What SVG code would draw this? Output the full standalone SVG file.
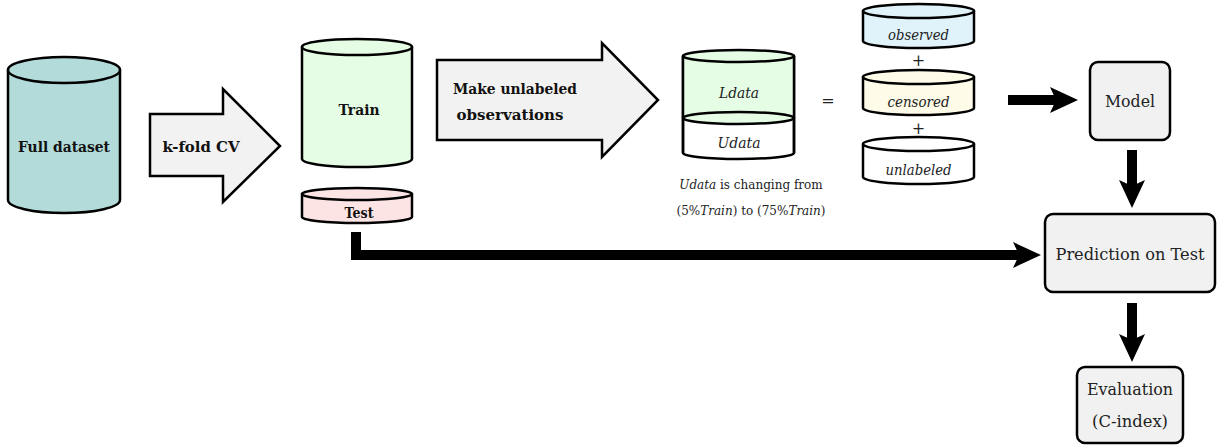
<svg xmlns="http://www.w3.org/2000/svg" width="1217" height="446" viewBox="0 0 1217 446">
<style>
.cyl{stroke:#000;stroke-width:2.5;stroke-linejoin:round}
text{font-family:'DejaVu Serif','Liberation Serif',serif}
.b{font-weight:bold;font-size:14px;fill:#111;text-anchor:middle}
.r{font-size:16px;fill:#222;text-anchor:middle}
.i{font-style:italic;font-size:14px;fill:#222;text-anchor:middle}
.s{font-size:12px;fill:#222;text-anchor:middle}
.box{fill:#f1f1f1;stroke:#000;stroke-width:2.5}
.bigarrow{fill:#f2f2f2;stroke:#000;stroke-width:2.5;stroke-linejoin:miter}
.conn{fill:none;stroke:#000;stroke-width:10}
.head{fill:#000}
</style>

<g id="full-dataset">
<path class="cyl" fill="#b2dbd9" d="M8,70 L8,200 A56,13 0 0 0 120,200 L120,70 Z"/>
<ellipse class="cyl" fill="#b2dbd9" cx="64" cy="70" rx="56" ry="13"/>
<text class="b" x="64" y="152" textLength="92" lengthAdjust="spacingAndGlyphs">Full dataset</text>
</g>

<g id="kfold-arrow">
<polygon class="bigarrow" points="150,114 223,114 223,89 280,146 223,202 223,176 150,176"/>
<text class="b" x="201" y="152" textLength="77" lengthAdjust="spacingAndGlyphs">k-fold CV</text>
</g>

<g id="train">
<path class="cyl" fill="#e5fde5" d="M302,47 L302,159 A55,8 0 0 0 412,159 L412,47 Z"/>
<ellipse class="cyl" fill="#e5fde5" cx="357" cy="47" rx="55" ry="8"/>
<text class="b" x="359" y="115" textLength="41" lengthAdjust="spacingAndGlyphs">Train</text>
</g>

<g id="test">
<path class="cyl" fill="#fde4e4" d="M302,194 L302,217 A55,6 0 0 0 412,217 L412,194 Z"/>
<ellipse class="cyl" fill="#fde4e4" cx="357" cy="194" rx="55" ry="6"/>
<text class="b" x="359" y="218" textLength="29" lengthAdjust="spacingAndGlyphs">Test</text>
</g>

<g id="make-unlabeled-arrow">
<polygon class="bigarrow" points="437,60 602,60 602,43 658,100 602,157 602,140 437,140"/>
<text class="b" x="515" y="94" textLength="124" lengthAdjust="spacingAndGlyphs">Make unlabeled</text>
<text class="b" x="510" y="120" textLength="107" lengthAdjust="spacingAndGlyphs">observations</text>
</g>

<g id="ldata-udata">
<path class="cyl" fill="#ffffff" d="M683,56 L683,153 A55.5,6 0 0 0 794,153 L794,56 Z"/>
<path fill="#e5fde5" stroke="none" d="M684,56 L684,118 L793,118 L793,56 Z"/>
<path fill="none" stroke="#000" stroke-width="2.5" d="M683,56 L683,153 M794,56 L794,153"/>
<ellipse class="cyl" fill="#e5fde5" cx="738.5" cy="118" rx="55.5" ry="6"/>
<ellipse class="cyl" fill="#e5fde5" cx="738.5" cy="56" rx="55.5" ry="6"/>
<text class="i" x="739" y="98" textLength="40" lengthAdjust="spacingAndGlyphs">Ldata</text>
<text class="i" x="739" y="148" textLength="43" lengthAdjust="spacingAndGlyphs">Udata</text>
</g>

<g id="udata-caption">
<text class="s" x="751" y="189"><tspan font-style="italic">Udata</tspan> is changing from</text>
<text class="s" x="751" y="215">(5%<tspan font-style="italic">Train</tspan>) to (75%<tspan font-style="italic">Train</tspan>)</text>
</g>

<g id="equals">
<text class="r" x="828" y="106">=</text>
</g>

<g id="observed">
<path class="cyl" fill="#e0f3fb" d="M863,11 L863,41 A55.5,7 0 0 0 974,41 L974,11 Z"/>
<ellipse class="cyl" fill="#e0f3fb" cx="918.5" cy="11" rx="55.5" ry="7"/>
<text class="i" x="918.5" y="40" textLength="61" lengthAdjust="spacingAndGlyphs">observed</text>
</g>
<g id="plus1"><text class="r" x="918.5" y="66">+</text></g>

<g id="censored">
<path class="cyl" fill="#fefbe9" d="M863,77 L863,108 A55.5,7 0 0 0 974,108 L974,77 Z"/>
<ellipse class="cyl" fill="#fefbe9" cx="918.5" cy="77" rx="55.5" ry="7"/>
<text class="i" x="918.5" y="107" textLength="62" lengthAdjust="spacingAndGlyphs">censored</text>
</g>
<g id="plus2"><text class="r" x="918.5" y="134">+</text></g>

<g id="unlabeled">
<path class="cyl" fill="#ffffff" d="M863,144 L863,177 A55.5,7 0 0 0 974,177 L974,144 Z"/>
<ellipse class="cyl" fill="#ffffff" cx="918.5" cy="144" rx="55.5" ry="7"/>
<text class="i" x="918.5" y="175" textLength="66" lengthAdjust="spacingAndGlyphs">unlabeled</text>
</g>

<g id="model">
<rect class="box" x="1090" y="62" width="80" height="78" rx="8"/>
<text class="r" x="1130" y="107" textLength="50" lengthAdjust="spacingAndGlyphs">Model</text>
</g>

<g id="prediction">
<rect class="box" x="1045" y="214" width="170" height="78" rx="8"/>
<text class="r" x="1130" y="260" textLength="149" lengthAdjust="spacingAndGlyphs">Prediction on Test</text>
</g>

<g id="evaluation">
<rect class="box" x="1077" y="367" width="106" height="76" rx="8"/>
<text class="r" x="1130" y="395" textLength="86" lengthAdjust="spacingAndGlyphs">Evaluation</text>
<text class="r" x="1130" y="427" textLength="76" lengthAdjust="spacingAndGlyphs">(C-index)</text>
</g>

<g id="connectors">
<line class="conn" x1="1008" y1="100" x2="1058" y2="100"/>
<polygon class="head" points="1078,100 1050,87 1056,100 1050,113"/>
<line class="conn" x1="1132" y1="150" x2="1132" y2="186"/>
<polygon class="head" points="1132,208 1119,180 1132,186 1145,180"/>
<line class="conn" x1="1132" y1="303" x2="1132" y2="340"/>
<polygon class="head" points="1132,362 1119,334 1132,340 1145,334"/>
<path class="conn" stroke-linejoin="miter" d="M356,232 V255 H1020"/>
<polygon class="head" points="1041,255 1013,242 1019,255 1013,268"/>
</g>
</svg>
